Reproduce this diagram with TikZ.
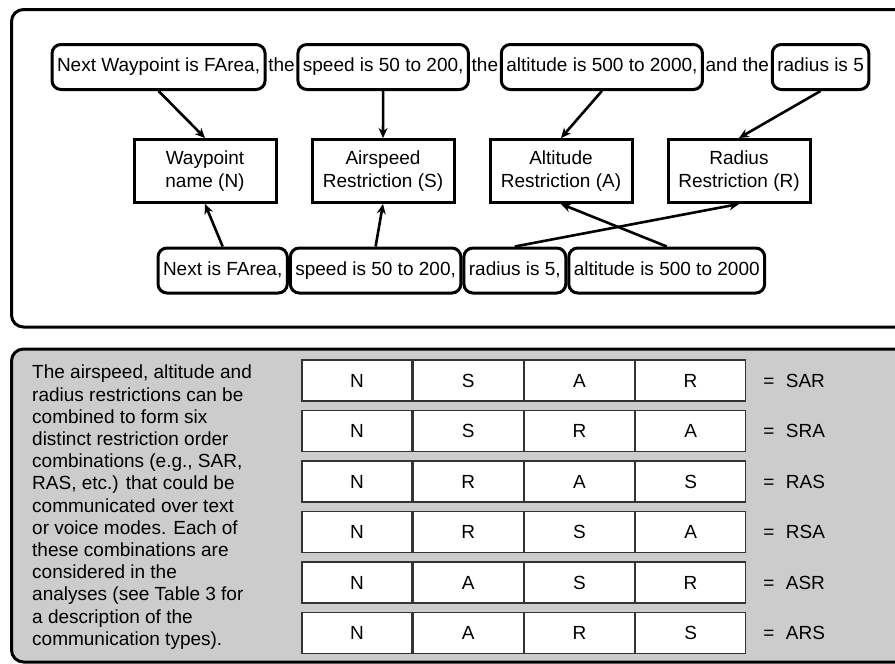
\documentclass[tikz,border=0pt]{standalone}
\usepackage{fontspec}
\setmainfont{Liberation Sans}
\usetikzlibrary{arrows.meta,positioning}

\tikzset{
  phrase/.style={draw, line width=3pt, rounded corners=9pt, inner xsep=5pt, inner ysep=0pt,
    minimum height=45pt, text height=13.5pt, text depth=4pt},
  joiner/.style={inner xsep=1.5pt, inner ysep=0pt, text height=13.5pt, text depth=4pt},
  slot/.style={draw, line width=3pt, align=center, minimum width=142pt, minimum height=63pt},
  link/.style={line width=2.6pt, -{Stealth[length=10pt,width=9pt]}},
  cell/.style={draw=black!80, line width=1.2pt, fill=white, minimum width=110pt,
    minimum height=41pt, inner sep=0pt},
}

\begin{document}
\begin{tikzpicture}[x=1pt, y=-1pt, font=\fontsize{19}{22.2}\selectfont]
  \clip (0,0) rectangle (895,664);
  % the two panels
  \draw[line width=3pt, rounded corners=12pt] (11.5,9.5) rectangle (910,327);
  \draw[line width=3pt, rounded corners=12pt, fill=black!20] (11.5,349) rectangle (910,662);

  % spoken sentence, top row
  \node[phrase, anchor=west] (tWpt) at (50.5,67) {Next Waypoint is FArea,};
  \node[joiner, right=0pt of tWpt] (tThe1) {the};
  \node[phrase, right=0pt of tThe1] (tSpd) {speed is 50 to 200,};
  \node[joiner, right=0pt of tSpd] (tThe2) {the};
  \node[phrase, right=0pt of tThe2] (tAlt) {altitude is 500 to 2000,};
  \node[joiner, right=0pt of tAlt] (tAnd) {and the};
  \node[phrase, right=0pt of tAnd] (tRad) {radius is 5};

  % the four restriction slots
  \node[slot] (wpt) at (205,171) {Waypoint\\name (N)};
  \node[slot, right=33pt of wpt] (spd) {Airspeed\\Restriction (S)};
  \node[slot, right=33pt of spd] (alt) {Altitude\\Restriction (A)};
  \node[slot, right=33pt of alt] (rad) {Radius\\Restriction (R)};

  % short sentence, bottom row
  \node[phrase, anchor=west] (bWpt) at (156.5,270.5) {Next is FArea,};
  \node[phrase, right=0pt of bWpt] (bSpd) {speed is 50 to 200,};
  \node[phrase, right=0pt of bSpd] (bRad) {radius is 5,};
  \node[phrase, right=0pt of bRad] (bAlt) {altitude is 500 to 2000};

  \draw[link] (tWpt.south) -- (wpt.north);
  \draw[link] (tSpd.south) -- (spd.north);
  \draw[link] (tAlt.south) -- (alt.north);
  \draw[link] (tRad.south) -- (rad.north);
  \draw[link] (bWpt.north) -- (wpt.south);
  \draw[link] (bSpd.north) -- (spd.south);
  \draw[link] (bRad.north) -- (rad.south);
  \draw[link] (bAlt.north) -- (alt.south);

  % lower panel
  \node[anchor=north west, align=left, inner sep=0pt] (note) at (32,365)
    {The airspeed, altitude and\\radius restrictions can be\\combined to form six\\
     distinct restriction order\\combinations (e.g., SAR,\\RAS, etc.) that could be\\
     communicated over text\\or voice modes. Each of\\these combinations are\\
     considered in the\\analyses (see Table 3 for\\a description of the\\
     communication types).};

  \foreach \a/\b/\c [count=\r] in {S/A/R,S/R/A,R/A/S,R/S/A,A/S/R,A/R/S}{
    \node[cell] (n\r) at (357,{380.5+50.5*(\r-1)}) {N};
    \node[cell, right=0pt of n\r] (p\r) {\a};
    \node[cell, right=0pt of p\r] (q\r) {\b};
    \node[cell, right=0pt of q\r] (s\r) {\c};
    \node[anchor=west, inner xsep=0pt] (eq\r) at ([xshift=17pt]s\r.east) {=\hspace{0.6em}\a\b\c};
  }
\end{tikzpicture}
\end{document}
